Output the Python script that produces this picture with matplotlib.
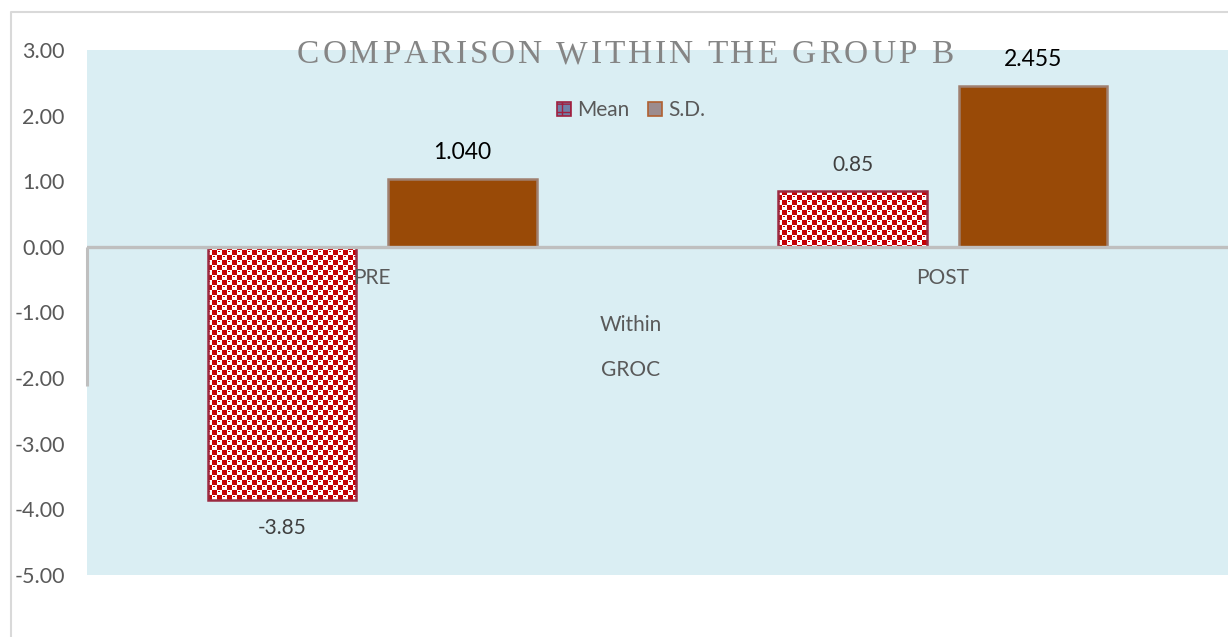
import numpy as np
import matplotlib
matplotlib.use('Agg')
import matplotlib.pyplot as plt
from matplotlib.patches import Patch
from matplotlib.lines import Line2D
from matplotlib.font_manager import FontProperties

# data
categories = ['PRE', 'POST']
mean_vals = [-3.85, 0.85]
sd_vals = [1.040, 2.455]
mean_labels = ['-3.85', '0.85']
sd_labels = ['1.040', '2.455']
series_names = ['Mean', 'S.D.']
title_text = 'COMPARISON WITHIN THE GROUP B'
axis_title = ['Within', 'GROC']
yticks = [3, 2, 1, 0, -1, -2, -3, -4, -5]

W, H = 1228, 637
fig = plt.figure(figsize=(W / 100, H / 100), dpi=100)
plt.rcParams['font.family'] = ['Lato', 'DejaVu Sans']

def fx(px):
    return px / W

def fy(py):
    return 1 - py / H

# outer chart frame (left + top edge visible)
fig.add_artist(Line2D([fx(11), fx(11), fx(W)], [0, fy(12), fy(12)],
                      transform=fig.transFigure, color='#D9D9D9', lw=1.5))

ax = fig.add_axes([fx(87), fy(575), fx(1228 - 87), (575 - 50) / H])
ax.set_facecolor('#DAEEF3')
ax.set_xlim(-0.5, 1.5)
ax.set_ylim(-5, 3)
for s in ax.spines.values():
    s.set_visible(False)

ax.set_yticks(yticks)
ax.set_yticklabels([f'{v:.2f}' for v in yticks], fontsize=15.5, color='#595959')
ax.tick_params(axis='y', length=0, pad=16)
ax.set_xticks([])

x = np.arange(len(categories))
width = 0.26
off = 0.158

# S.D. bars (solid brown)
ax.bar(x + off, sd_vals, width, color='#994A07', edgecolor='#A08070',
       linewidth=1.8, zorder=3)

# Mean bars: red/white checker texture clipped to the bars
mean_bars = ax.bar(x - off, mean_vals, width, color='#C00000', linewidth=0, zorder=3)
ph, pw = 575 - 50, 1228 - 87
yy, xx = np.mgrid[0:ph, 0:pw]
cell = 5
chk = ((yy // cell + xx // cell) % 2).astype(bool)
# small red dots inside white cells to darken the pattern like the original
dots = (~chk) & ((yy % cell) == 1) & ((xx % cell) >= 1) & ((xx % cell) <= 2)
tex = np.ones((ph, pw, 3))
tex[chk | dots] = [0.77, 0.0, 0.02]
for b in mean_bars:
    im = ax.imshow(tex, extent=(-0.5, 1.5, -5, 3), aspect='auto',
                   interpolation='nearest', zorder=3.5)
    im.set_clip_path(b)
ax.bar(x - off, mean_vals, width, fill=False, edgecolor='#9B2A40',
       linewidth=1.8, zorder=4)

# zero line and the short left axis stub
ax.axhline(0, color='#BFBFBF', lw=2.4, zorder=5)
ax.plot([-0.5, -0.5], [0, -2.12], color='#BFBFBF', lw=2.2, zorder=5,
        clip_on=False, solid_capstyle='butt')

# category labels just below the zero line
for xi, c in zip(x, categories):
    ax.annotate(c, (xi, 0), xytext=(0, -31), textcoords='offset pixels',
                ha='center', va='center', fontsize=15, color='#595959', zorder=6)

# data labels
for xi, v, lab in zip(x - off, mean_vals, mean_labels):
    dy = 26 if v >= 0 else -28
    ax.annotate(lab, (xi, v), xytext=(0, dy), textcoords='offset pixels',
                ha='center', va='center', fontsize=15, color='#404040', zorder=6)
for xi, v, lab in zip(x + off, sd_vals, sd_labels):
    ax.annotate(lab, (xi, v), xytext=(0, 26), textcoords='offset pixels',
                ha='center', va='center', fontsize=16.5, color='black', zorder=6)

# axis title (two lines)
fig.text(fx(631), fy(325), axis_title[0], ha='center', va='center',
         fontsize=15, color='#595959')
fig.text(fx(631), fy(370), axis_title[1], ha='center', va='center',
         fontsize=15, color='#595959')

# legend
handles = [Patch(facecolor='#7080A8', edgecolor='#A02040', hatch='++', linewidth=1.2),
           Patch(facecolor='#9C8C8E', edgecolor='#B06030', linewidth=1.2)]
ax.legend(handles, series_names, loc='center', bbox_to_anchor=(fx(631), fy(110)),
          bbox_transform=fig.transFigure, ncol=2, frameon=False, fontsize=15,
          handlelength=0.65, handleheight=0.65, handletextpad=0.3,
          columnspacing=0.9, labelcolor='#595959')

# letter-spaced serif title
fp = FontProperties(family='Liberation Serif', size=24)
rend = fig.canvas.get_renderer()
base = rend.get_text_width_height_descent('II', fp, ismath=False)[0]
widths = [rend.get_text_width_height_descent('I' + ch + 'I', fp, ismath=False)[0] - base
          for ch in title_text]
left, right = 297, 953
track = (right - left - sum(widths)) / (len(title_text) - 1)
cx = left
for ch, w in zip(title_text, widths):
    fig.text(fx(cx), fy(63), ch, fontproperties=fp, color='#858585',
             ha='left', va='baseline')
    cx += w + track

fig.savefig('out.png', dpi=100)
